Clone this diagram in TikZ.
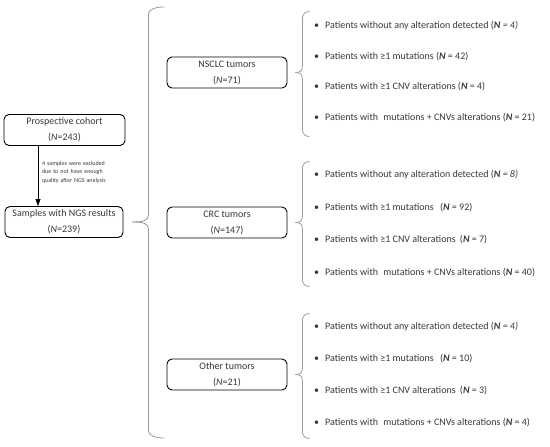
\documentclass[tikz,border=0pt]{standalone}
\usepackage{fontspec}
\setmainfont{Carlito}
\usetikzlibrary{arrows.meta, positioning, calc}
\definecolor{txtgray}{HTML}{383838}
\definecolor{bracegray}{HTML}{9A9A9A}

% curly brace drawn out from its tip: tip, depth, up, down
\newcommand{\curly}[4]{%
  \draw[brc] (#1) .. controls +(0.6*#2,0) and +(0,6) .. ++(#2,-7)
    -- ++(0,{-(#3)+14}) .. controls +(0,-5) and +(-0.5*#2,0) .. ++(#2,-7);
  \draw[brc] (#1) .. controls +(0.6*#2,0) and +(0,-6) .. ++(#2,7)
    -- ++(0,{#4-14}) .. controls +(0,5) and +(-0.5*#2,0) .. ++(#2,7);
}

\begin{document}
\begin{tikzpicture}[x=1pt, y=-1pt,
    box/.style={draw, line width=0.9pt, rounded corners=5pt,
                minimum width=120pt, minimum height=31pt, inner sep=1pt,
                align=center, text=txtgray, font=\fontsize{10}{16}\selectfont},
    item/.style={anchor=west, inner sep=0pt, text=txtgray,
                 font=\fontsize{10}{12}\selectfont},
    brc/.style={bracegray, line width=0.8pt},
    arr/.style={-{Triangle[length=7pt, width=5pt]}, line width=0.7pt}
  ]
  \useasboundingbox (0,0) rectangle (550,447);

  % cohort
  \node[box, minimum width=121pt] (cohort) at (64.5,130) {Prospective cohort\\(\textit{N}=243)};
  \node[box, minimum width=118pt] (ngs) at (64,222) {Samples with NGS results\\(\textit{N}=239)};
  \draw[arr] ([xshift=-26.5pt]cohort.south) -- ([xshift=-26pt]ngs.north);
  \node[text width=76pt, align=left, inner sep=0pt, text=txtgray,
        font=\fontsize{6}{8.5}\selectfont] (excl) at (80,172)
       {\makebox[76pt][s]{4 samples were excluded}\\
        \makebox[76pt][s]{due to not have enough}\\
        quality after NGS analysis};

  % tumor types
  \node[box] (nsclc) at (227,72.5) {NSCLC tumors\\(\textit{N}=71)};
  \node[box] (crc) at (227,222.5) {CRC tumors\\(\textit{N}=147)};
  \node[box] (other) at (227,374.5) {Other tumors\\(\textit{N}=21)};
  \curly{[xshift=9pt]ngs.east}{16}{215}{216}

  % alterations per tumor type
  \foreach \g/\y/\dy/\sa/\sb/\na/\nb/\nc/\nd in
      {nsclc/26/30.4/0/0/4/42/4/21, crc/175/32.4/4/2/8/92/7/40, other/327/31.7/4/2/4/10/3/4} {
    \node[item] (\g1) at (314,\y) {\makebox[11pt][l]{\textbullet}Patients without any alteration detected (\textit{\textbf{N} = \na)}};
    \node[item] (\g2) at (314,\y+\dy) {\makebox[11pt][l]{\textbullet}Patients with ≥1 mutations\hspace{\sa pt} (\textbf{\textit{N}} = \nb)};
    \node[item] (\g3) at (314,\y+2*\dy) {\makebox[11pt][l]{\textbullet}Patients with ≥1 CNV alterations\hspace{\sb pt} (\textbf{\textit{N}} = \nc)};
    \node[item] (\g4) at (314,\y+3*\dy) {\makebox[11pt][l]{\textbullet}Patients with\hspace{3pt} mutations + CNVs alterations (\textbf{\textit{N}} = \nd)};
    \curly{[xshift=8pt]\g.east}{7}{61}{64}
  }
\end{tikzpicture}
\end{document}
